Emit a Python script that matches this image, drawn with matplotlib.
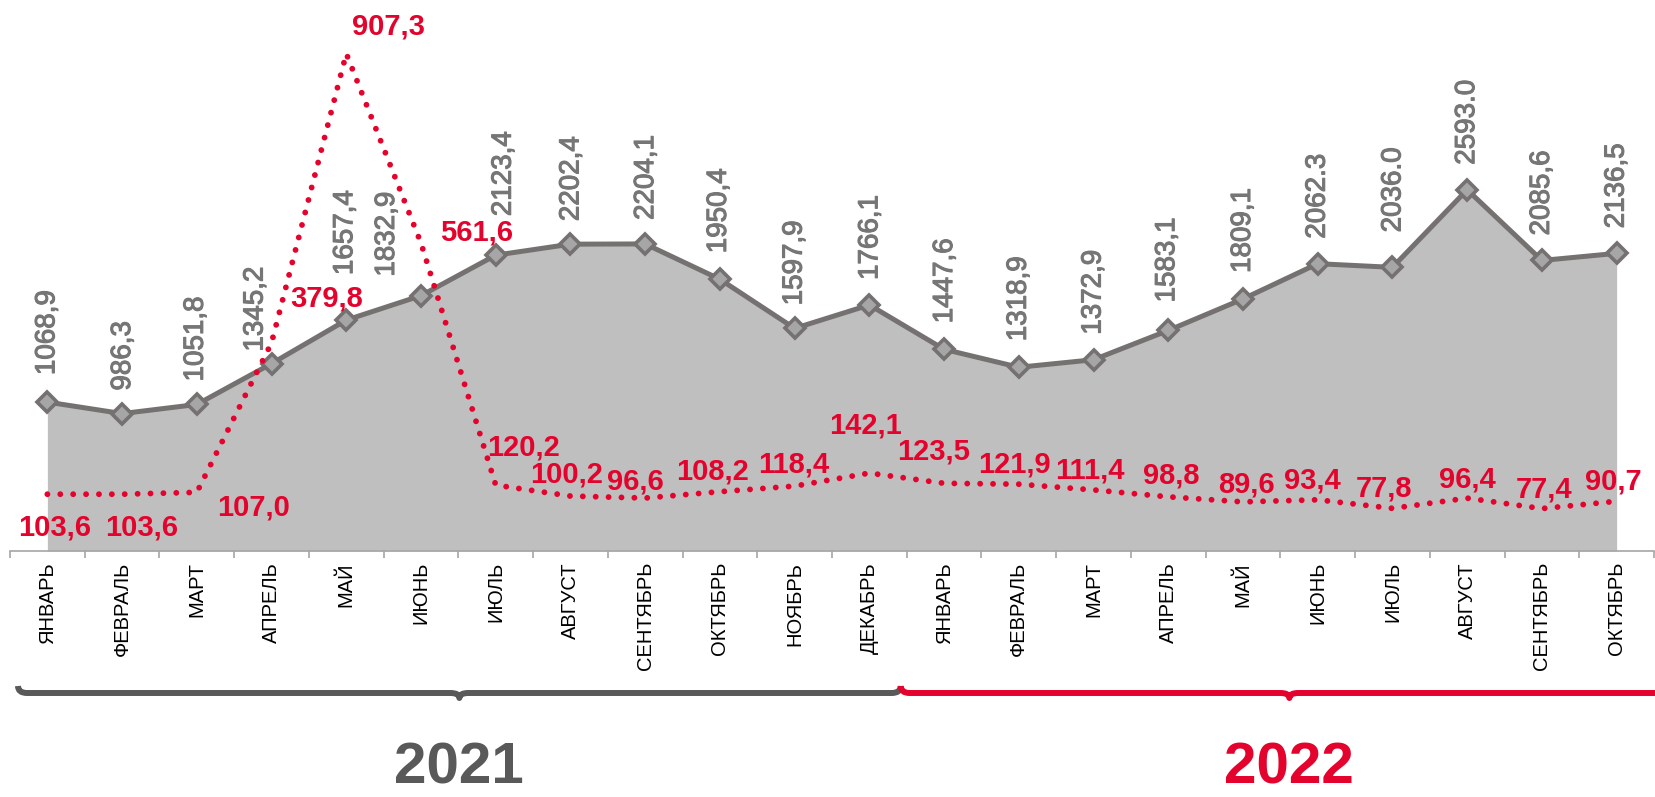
import numpy as np
import matplotlib.pyplot as plt
import matplotlib.patheffects as pe
from matplotlib.path import Path
from matplotlib.patches import PathPatch
from matplotlib.transforms import IdentityTransform

plt.rcParams['font.family'] = ['Liberation Sans', 'DejaVu Sans']

# months, 2021 then 2022
months = ['ЯНВАРЬ', 'ФЕВРАЛЬ', 'МАРТ', 'АПРЕЛЬ', 'МАЙ', 'ИЮНЬ', 'ИЮЛЬ', 'АВГУСТ',
          'СЕНТЯБРЬ', 'ОКТЯБРЬ', 'НОЯБРЬ', 'ДЕКАБРЬ',
          'ЯНВАРЬ', 'ФЕВРАЛЬ', 'МАРТ', 'АПРЕЛЬ', 'МАЙ', 'ИЮНЬ', 'ИЮЛЬ', 'АВГУСТ',
          'СЕНТЯБРЬ', 'ОКТЯБРЬ']
years = ['2021', '2022']

# grey area series
volume = [1068.9, 986.3, 1051.8, 1345.2, 1657.4, 1832.9, 2123.4, 2202.4, 2204.1, 1950.4,
          1597.9, 1766.1, 1447.6, 1318.9, 1372.9, 1583.1, 1809.1, 2062.3, 2036.0, 2593.0,
          2085.6, 2136.5]
volume_labels = ['1068,9', '986,3', '1051,8', '1345,2', '1657,4', '1832,9', '2123,4', '2202,4',
                 '2204,1', '1950,4', '1597,9', '1766,1', '1447,6', '1318,9', '1372,9', '1583,1',
                 '1809,1', '2062.3', '2036.0', '2593.0', '2085,6', '2136,5']

# red dotted series (right axis)
index = [103.6, 103.6, 107.0, 379.8, 907.3, 561.6, 120.2, 100.2, 96.6, 108.2, 118.4, 142.1,
         123.5, 121.9, 111.4, 98.8, 89.6, 93.4, 77.8, 96.4, 77.4, 90.7]

RED = '#e3032c'
GREY = '#767171'
DARK = '#595959'

W, H = 1655, 797
fig = plt.figure(figsize=(W / 100, H / 100), dpi=100)
ax = fig.add_axes([10 / W, 246 / H, 1644 / W, 551 / H])
x = np.arange(len(months))

ax.fill_between(x, volume, color='#bfbfbf', lw=0, zorder=1)
ax.plot(x, volume, color=GREY, lw=3.6, marker='D', ms=10, mfc='#a6a6a6', mec=GREY,
        mew=2.6, zorder=2)
ax.set_xlim(-0.5, len(months) - 0.5)
ax.set_ylim(0, 3955)

ax2 = ax.twinx()
ax2.plot(x, index, color=RED, lw=4.2, linestyle=(0, (0.01, 2.2)), dash_capstyle='round')
ax2.set_ylim(0, 1005)

for a in (ax, ax2):
    for s in ('top', 'left', 'right'):
        a.spines[s].set_visible(False)
    a.set_yticks([])
ax2.spines['bottom'].set_visible(False)
ax.spines['bottom'].set_color('#a6a6a6')
ax.spines['bottom'].set_linewidth(1.2)

ax.set_xticks(np.arange(-0.5, len(months), 1))
ax.set_xticklabels([])
ax.tick_params(axis='x', which='major', length=5, width=1.2, color='#a6a6a6')
ax.set_xticks(x, minor=True)
ax.set_xticklabels(months, minor=True, rotation=90, fontsize=14.5)
ax.tick_params(axis='x', which='minor', length=0, pad=8)

# grey value labels (offsets in pixels, as placed in the original)
grey_dx = [0, 1, -1, -16, -1, -34, 8, 1, 1, -1, 0, 1, 1, 0, 0, -1, 0, 0, 1, 0, 0, 0]
grey_gap = [27, 23, 23, 12, 45, 19, 39, 23, 24, 26, 23, 25, 26, 26, 25, 28, 26, 25, 35, 25, 25, 25]
for i, v in enumerate(volume):
    ax.annotate(volume_labels[i], (i, v), xytext=(grey_dx[i], grey_gap[i]),
                textcoords='offset pixels', rotation=90, ha='center', va='bottom',
                fontsize=20, color='#767676', zorder=5,
                path_effects=[pe.withStroke(linewidth=0.8, foreground='#767676')])

# red value labels
red_dx = [7, 20, 57, 55, 42, 56, 28, -4, -10, -7, -1, -4, -11, -4, -4, 3, 3, -5, -8, 0, 2, -3]
red_dy = [-31, -31, -13, 46, 29, 13, 40, 24, 19, 22, 24, 50, 34, 22, 21, 23, 19, 21, 22, 21, 21, 22]
for i, v in enumerate(index):
    ax2.annotate(f'{v:.1f}'.replace('.', ','), (i, v), xytext=(red_dx[i], red_dy[i] - 10),
                 textcoords='offset pixels', ha='center', va='baseline',
                 fontsize=21, fontweight='bold', color=RED, zorder=6)


# year braces under the axis
def px(xv):
    return ax.transData.transform((xv, 0))[0]


def brace(x0, x1, y, color):
    xm = (x0 + x1) / 2
    h, t, d = 7, 5, 9
    verts = [(x0, y + h), (x0, y), (x0 + d, y),
             (xm - d, y), (xm, y), (xm, y - t),
             (xm, y), (xm + d, y),
             (x1 - d, y), (x1, y), (x1, y + h)]
    codes = [Path.MOVETO, Path.CURVE3, Path.CURVE3,
             Path.LINETO, Path.CURVE3, Path.CURVE3,
             Path.CURVE3, Path.CURVE3,
             Path.LINETO, Path.CURVE3, Path.CURVE3]
    fig.add_artist(PathPatch(Path(verts, codes), fc='none', ec=color, lw=4.3,
                             capstyle='butt', joinstyle='round',
                             transform=IdentityTransform()))
    return xm


yb = H - 693
m1 = brace(px(-0.5) + 8, px(11.5) - 6, yb, DARK)
m2 = brace(px(11.5) - 6, px(len(months) - 0.5) + 24, yb, RED)

fig.text(m1 / W, 2 / H, years[0], ha='center', va='bottom', fontsize=42,
         fontweight='bold', color=DARK)
fig.text(m2 / W, 1 / H, years[1], ha='center', va='bottom', fontsize=42,
         fontweight='bold', color=RED)

fig.savefig('out.png', dpi=100)
